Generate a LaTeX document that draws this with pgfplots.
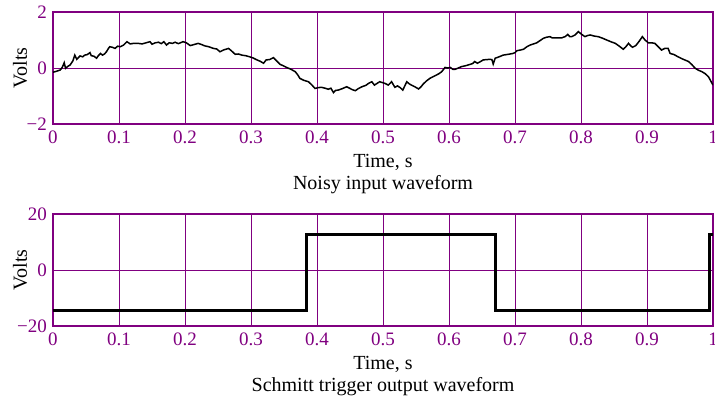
\documentclass[border=0pt]{standalone}
\usepackage{fontspec}
\setmainfont{Liberation Serif}
\usepackage{pgfplots}
\pgfplotsset{compat=1.18}
\definecolor{mpurple}{RGB}{128,0,128}
\pgfplotsset{
  schmitt/.style={
    scale only axis, width=660pt, height=112pt,
    xmin=0, xmax=1,
    xtick={0,0.1,0.2,0.3,0.4,0.5,0.6,0.7,0.8,0.9,1},
    xticklabels={0,0.1,0.2,0.3,0.4,0.5,0.6,0.7,0.8,0.9,1},
    major tick length=0pt,
    grid=major,
    major grid style={mpurple, line width=0.7pt},
    axis line style={mpurple, line width=1.6pt},
    tick label style={font=\fontsize{19}{22}\selectfont, text=mpurple},
    xticklabel style={inner sep=0pt, yshift=-7pt},
    yticklabel style={inner sep=0pt, xshift=-6pt},
    label style={font=\fontsize{20}{23}\selectfont, text=black},
    xlabel={Time, s},
    xlabel style={at={(axis description cs:0.5,-0.384)}, anchor=base},
    ylabel={Volts},
    ylabel style={at={(axis description cs:-0.0394,0.5)}, anchor=base},
    title style={font=\fontsize{20}{23}\selectfont, at={(axis description cs:0.5,-0.64)}, anchor=base},
    clip=true,
  }
}
\begin{document}
\begin{tikzpicture}
\begin{axis}[schmitt, name=top, at={(0pt,0pt)}, anchor=north west,
  ymin=-2, ymax=2, ytick={-2,0,2}, yticklabels={−2,0,2},
  title={Noisy input waveform}]
\addplot[black, line width=1.5pt] coordinates {
(0.000,-0.15) (0.005,-0.12) (0.011,-0.07) (0.014,0.02) (0.017,0.19) (0.019,-0.01)
(0.022,0.05) (0.026,0.11) (0.030,0.25) (0.033,0.46) (0.036,0.31) (0.041,0.43)
(0.045,0.40) (0.048,0.46) (0.052,0.48) (0.056,0.55) (0.058,0.44) (0.062,0.42)
(0.066,0.35) (0.069,0.45) (0.072,0.52) (0.075,0.46) (0.078,0.50) (0.081,0.58)
(0.084,0.70) (0.086,0.76) (0.090,0.74) (0.094,0.70) (0.098,0.78) (0.102,0.76)
(0.107,0.82) (0.112,0.94) (0.117,0.86) (0.122,0.88) (0.129,0.88) (0.135,0.86)
(0.141,0.90) (0.147,0.94) (0.150,0.85) (0.155,0.90) (0.160,0.92) (0.164,0.87)
(0.168,0.94) (0.172,0.82) (0.176,0.90) (0.181,0.88) (0.185,0.92) (0.190,0.87)
(0.197,0.94) (0.202,0.90) (0.208,0.80) (0.214,0.84) (0.220,0.88) (0.225,0.84)
(0.230,0.79) (0.236,0.76) (0.243,0.70) (0.248,0.68) (0.253,0.58) (0.258,0.64)
(0.266,0.70) (0.271,0.60) (0.276,0.49) (0.281,0.50) (0.286,0.46) (0.292,0.44)
(0.298,0.40) (0.303,0.36) (0.309,0.29) (0.314,0.24) (0.319,0.17) (0.323,0.29)
(0.328,0.30) (0.334,0.37) (0.339,0.25) (0.344,0.13) (0.349,0.08) (0.354,0.02)
(0.360,-0.04) (0.367,-0.13) (0.371,-0.25) (0.374,-0.37) (0.380,-0.44) (0.387,-0.49)
(0.392,-0.60) (0.397,-0.73) (0.402,-0.70) (0.407,-0.69) (0.412,-0.72) (0.417,-0.76)
(0.421,-0.72) (0.425,-0.88) (0.428,-0.80) (0.432,-0.79) (0.438,-0.74) (0.445,-0.67)
(0.450,-0.73) (0.454,-0.78) (0.458,-0.81) (0.463,-0.73) (0.468,-0.67) (0.474,-0.62)
(0.478,-0.55) (0.483,-0.49) (0.487,-0.61) (0.491,-0.55) (0.495,-0.49) (0.499,-0.52)
(0.503,-0.55) (0.508,-0.61) (0.513,-0.49) (0.518,-0.69) (0.522,-0.64) (0.526,-0.70)
(0.530,-0.79) (0.536,-0.49) (0.540,-0.57) (0.543,-0.61) (0.549,-0.68) (0.554,-0.75)
(0.558,-0.66) (0.561,-0.57) (0.566,-0.46) (0.571,-0.37) (0.576,-0.31) (0.581,-0.25)
(0.585,-0.20) (0.589,-0.13) (0.594,0.02) (0.598,0.00) (0.602,0.02) (0.606,-0.05)
(0.609,-0.05) (0.614,0.00) (0.619,0.05) (0.625,0.08) (0.632,0.13) (0.636,0.16)
(0.639,0.23) (0.643,0.17) (0.647,0.22) (0.652,0.29) (0.657,0.30) (0.662,0.31)
(0.665,0.30) (0.667,0.14) (0.670,0.35) (0.676,0.40) (0.682,0.46) (0.690,0.49)
(0.697,0.52) (0.700,0.55) (0.703,0.62) (0.708,0.64) (0.713,0.67) (0.718,0.76)
(0.723,0.82) (0.728,0.86) (0.733,0.90) (0.738,0.98) (0.743,1.06) (0.748,1.10)
(0.753,1.12) (0.756,1.08) (0.763,1.08) (0.771,1.08) (0.776,1.12) (0.780,1.20)
(0.783,1.12) (0.786,1.12) (0.791,1.18) (0.796,1.30) (0.801,1.20) (0.806,1.12)
(0.810,1.16) (0.814,1.18) (0.820,1.14) (0.826,1.12) (0.832,1.07) (0.839,1.00)
(0.845,0.94) (0.852,0.88) (0.858,0.78) (0.864,0.67) (0.868,0.76) (0.872,0.88)
(0.875,0.80) (0.878,0.74) (0.883,0.80) (0.888,0.95) (0.893,1.12) (0.897,1.00)
(0.902,0.90) (0.907,0.90) (0.912,0.88) (0.917,0.76) (0.922,0.64) (0.927,0.70)
(0.932,0.70) (0.935,0.52) (0.941,0.48) (0.947,0.40) (0.953,0.33) (0.958,0.28)
(0.963,0.23) (0.968,0.12) (0.973,-0.01) (0.978,-0.08) (0.983,-0.13) (0.988,-0.20)
(0.993,-0.31) (0.997,-0.48) (1.000,-0.61)
};
\end{axis}
\begin{axis}[schmitt, name=bot, at={(0pt,-202pt)}, anchor=north west,
  ymin=-20, ymax=20, ytick={-20,0,20}, yticklabels={−20,0,20},
  title={Schmitt trigger output waveform}]
\addplot[black, line width=3.2pt, line join=miter] coordinates {
(0,-14.6) (0.384,-14.6) (0.384,12.8) (0.670,12.8) (0.670,-14.6) (0.995,-14.6) (0.995,12.8) (1.0,12.8)
};
\end{axis}
\pgfresetboundingbox
\path ([xshift=-53pt,yshift=12pt]top.north west) rectangle ([xshift=2pt,yshift=-73pt]bot.south east);
\end{tikzpicture}
\end{document}
